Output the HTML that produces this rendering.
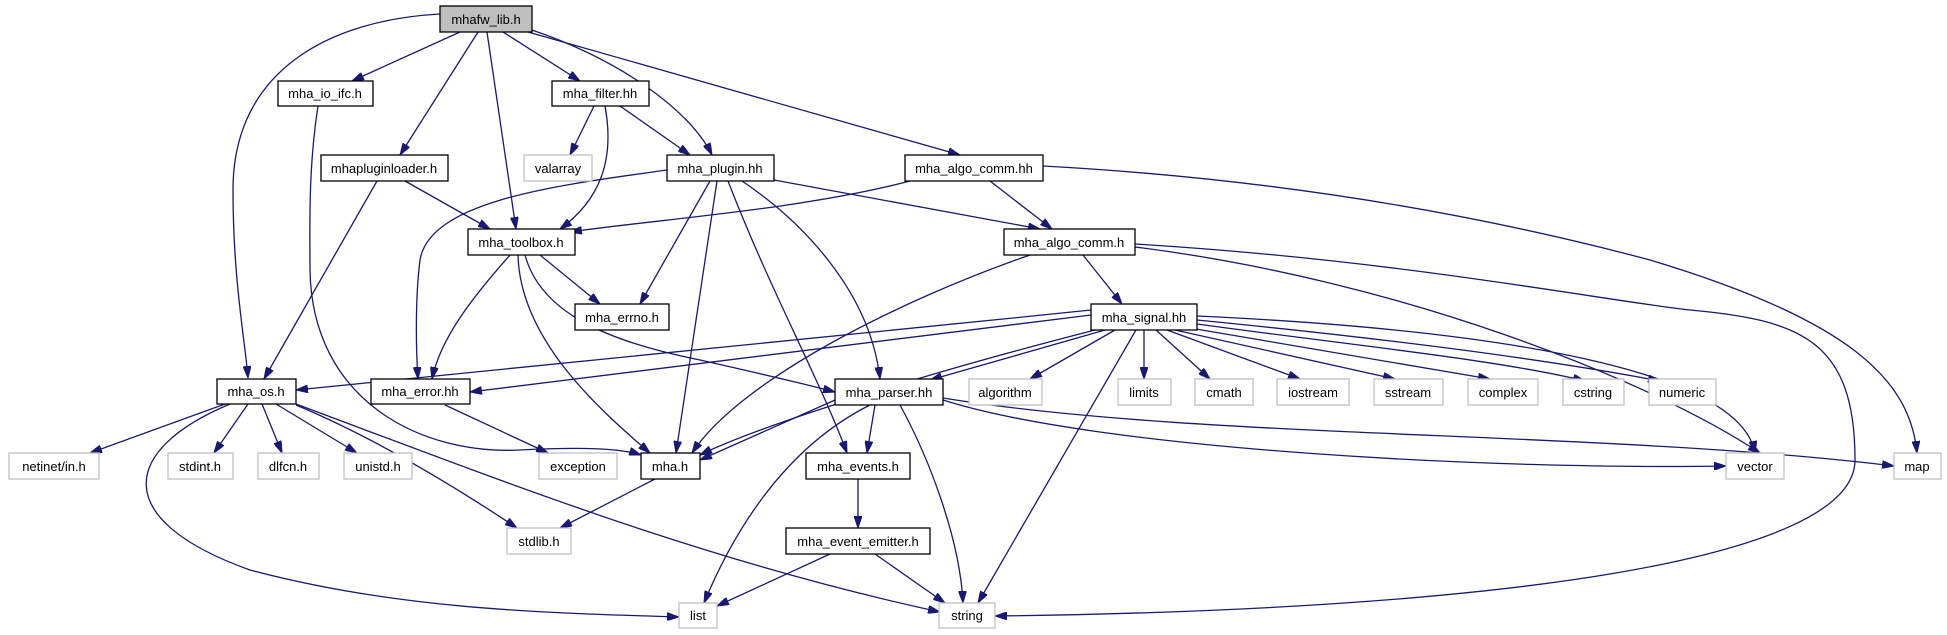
<!DOCTYPE html>
<html><head><meta charset="utf-8"><style>
html,body{margin:0;padding:0;background:#fff;}
svg{display:block;}
text{font-family:"Liberation Sans",sans-serif;font-size:13px;fill:#000;}
</style></head><body>
<svg width="1947" height="635" viewBox="0 0 1947 635" xmlns="http://www.w3.org/2000/svg">
<defs>
<marker id="a" viewBox="0 0 12 8" refX="12" refY="4" markerWidth="12" markerHeight="8" markerUnits="userSpaceOnUse" orient="auto">
<path d="M0,0 L12,4 L0,8 z" fill="#191970" stroke="#191970"/>
</marker>
</defs>
<g fill="none" stroke="#191970" stroke-width="1.3" marker-end="url(#a)">
<path d="M440,14 C330,20 233,70 233,190 C233,280 245,340 248,378"/>
<path d="M460,32 L352,81"/>
<path d="M478,32 L400,155"/>
<path d="M487,32 L516,229"/>
<path d="M503,32 L580,81"/>
<path d="M532,30 C620,60 690,110 712,155"/>
<path d="M528,32 L960,155"/>
<path d="M318,106 C308,170 310,230 310,270 C312,400 420,455 520,450 C580,447 620,448 641,455"/>
<path d="M594,106 L570,155"/>
<path d="M620,106 L690,155"/>
<path d="M605,106 C615,160 600,200 560,229"/>
<path d="M405,181 L490,229"/>
<path d="M377,181 L264,379"/>
<path d="M667,170 C560,185 430,200 420,260 C415,300 416,350 418,379"/>
<path d="M910,181 C800,210 650,220 570,232"/>
<path d="M710,181 L640,304"/>
<path d="M717,181 L676,453"/>
<path d="M728,181 C770,290 820,380 847,453"/>
<path d="M875,405 L867,453"/>
<path d="M742,181 C800,220 870,290 880,379"/>
<path d="M774,180 L1040,229"/>
<path d="M990,181 L1052,229"/>
<path d="M1043,166 C1300,180 1500,220 1650,260 C1850,320 1910,380 1917,453"/>
<path d="M540,255 L600,304"/>
<path d="M510,255 C470,300 440,340 432,379"/>
<path d="M518,255 C520,340 600,410 650,453"/>
<path d="M525,255 C540,310 600,340 700,360 C780,378 820,388 835,392"/>
<path d="M1083,255 L1122,304"/>
<path d="M1030,255 C900,300 740,380 692,453"/>
<path d="M1135,247 C1400,280 1650,380 1760,453"/>
<path d="M1135,244 C1400,260 1600,300 1690,310 C1800,320 1855,340 1855,460 C1855,560 1500,610 995,616"/>
<path d="M1091,310 C800,340 500,370 296,390"/>
<path d="M1091,315 C800,350 600,375 470,392"/>
<path d="M1095,330 C900,380 750,430 700,455"/>
<path d="M1105,330 L930,380"/>
<path d="M1115,330 L1030,379"/>
<path d="M1144,330 L1144,379"/>
<path d="M1156,330 L1210,379"/>
<path d="M1167,330 L1300,379"/>
<path d="M1175,330 L1395,379"/>
<path d="M1190,328 L1490,379"/>
<path d="M1197,324 C1350,345 1500,360 1585,381"/>
<path d="M1197,320 C1400,340 1550,360 1660,381"/>
<path d="M1197,316 C1500,330 1740,370 1755,453"/>
<path d="M1136,330 L978,603"/>
<path d="M225,404 L90,453"/>
<path d="M248,404 L214,453"/>
<path d="M262,404 L282,453"/>
<path d="M276,404 L357,453"/>
<path d="M296,405 C380,440 460,490 517,528"/>
<path d="M230,404 C120,450 110,520 250,570 C400,610 550,613 679,617"/>
<path d="M296,404 C500,480 700,560 940,612"/>
<path d="M445,405 L548,453"/>
<path d="M835,400 L700,460"/>
<path d="M870,405 C780,450 730,540 704,603"/>
<path d="M900,405 C930,460 960,540 963,603"/>
<path d="M943,400 C1100,450 1500,470 1726,466"/>
<path d="M943,398 C1200,440 1600,430 1894,466"/>
<path d="M655,479 L560,528"/>
<path d="M858,479 L858,528"/>
<path d="M830,554 L717,606"/>
<path d="M875,554 L945,603"/>
</g>
<g stroke-width="1.3" text-anchor="middle">
<rect x="440" y="6" width="92" height="26" fill="#bfbfbf" stroke="#000"/><text x="486" y="24">mhafw_lib.h</text>
<rect x="278" y="81" width="95" height="25" fill="#fff" stroke="#000"/><text x="325" y="98">mha_io_ifc.h</text>
<rect x="552" y="81" width="97" height="25" fill="#fff" stroke="#000"/><text x="600" y="98">mha_filter.hh</text>
<rect x="321" y="155" width="127" height="26" fill="#fff" stroke="#000"/><text x="384" y="173">mhapluginloader.h</text>
<rect x="524" y="155" width="68" height="26" fill="#fff" stroke="#bfbfbf"/><text x="558" y="173">valarray</text>
<rect x="667" y="155" width="107" height="26" fill="#fff" stroke="#000"/><text x="720" y="173">mha_plugin.hh</text>
<rect x="905" y="155" width="138" height="26" fill="#fff" stroke="#000"/><text x="974" y="173">mha_algo_comm.hh</text>
<rect x="468" y="229" width="107" height="26" fill="#fff" stroke="#000"/><text x="521" y="247">mha_toolbox.h</text>
<rect x="1004" y="229" width="131" height="26" fill="#fff" stroke="#000"/><text x="1069" y="247">mha_algo_comm.h</text>
<rect x="575" y="304" width="94" height="26" fill="#fff" stroke="#000"/><text x="622" y="322">mha_errno.h</text>
<rect x="1091" y="304" width="106" height="26" fill="#fff" stroke="#000"/><text x="1144" y="322">mha_signal.hh</text>
<rect x="217" y="379" width="79" height="25" fill="#fff" stroke="#000"/><text x="256" y="396">mha_os.h</text>
<rect x="371" y="379" width="99" height="25" fill="#fff" stroke="#000"/><text x="420" y="396">mha_error.hh</text>
<rect x="835" y="379" width="108" height="26" fill="#fff" stroke="#000"/><text x="889" y="397">mha_parser.hh</text>
<rect x="969" y="379" width="73" height="26" fill="#fff" stroke="#bfbfbf"/><text x="1005" y="397">algorithm</text>
<rect x="1118" y="379" width="53" height="26" fill="#fff" stroke="#bfbfbf"/><text x="1144" y="397">limits</text>
<rect x="1195" y="379" width="58" height="26" fill="#fff" stroke="#bfbfbf"/><text x="1224" y="397">cmath</text>
<rect x="1277" y="379" width="72" height="26" fill="#fff" stroke="#bfbfbf"/><text x="1313" y="397">iostream</text>
<rect x="1374" y="379" width="69" height="26" fill="#fff" stroke="#bfbfbf"/><text x="1408" y="397">sstream</text>
<rect x="1468" y="379" width="70" height="26" fill="#fff" stroke="#bfbfbf"/><text x="1503" y="397">complex</text>
<rect x="1563" y="379" width="61" height="26" fill="#fff" stroke="#bfbfbf"/><text x="1593" y="397">cstring</text>
<rect x="1649" y="379" width="67" height="26" fill="#fff" stroke="#bfbfbf"/><text x="1682" y="397">numeric</text>
<rect x="9" y="453" width="90" height="26" fill="#fff" stroke="#bfbfbf"/><text x="54" y="471">netinet/in.h</text>
<rect x="168" y="453" width="65" height="26" fill="#fff" stroke="#bfbfbf"/><text x="200" y="471">stdint.h</text>
<rect x="258" y="453" width="61" height="26" fill="#fff" stroke="#bfbfbf"/><text x="288" y="471">dlfcn.h</text>
<rect x="344" y="453" width="68" height="26" fill="#fff" stroke="#bfbfbf"/><text x="378" y="471">unistd.h</text>
<rect x="539" y="453" width="78" height="26" fill="#fff" stroke="#bfbfbf"/><text x="578" y="471">exception</text>
<rect x="641" y="453" width="59" height="26" fill="#fff" stroke="#000"/><text x="670" y="471">mha.h</text>
<rect x="806" y="453" width="104" height="26" fill="#fff" stroke="#000"/><text x="858" y="471">mha_events.h</text>
<rect x="1726" y="453" width="58" height="26" fill="#fff" stroke="#bfbfbf"/><text x="1755" y="471">vector</text>
<rect x="1894" y="453" width="47" height="26" fill="#fff" stroke="#bfbfbf"/><text x="1917" y="471">map</text>
<rect x="507" y="528" width="64" height="26" fill="#fff" stroke="#bfbfbf"/><text x="539" y="546">stdlib.h</text>
<rect x="786" y="528" width="144" height="26" fill="#fff" stroke="#000"/><text x="858" y="546">mha_event_emitter.h</text>
<rect x="679" y="603" width="38" height="25" fill="#fff" stroke="#bfbfbf"/><text x="698" y="620">list</text>
<rect x="939" y="603" width="56" height="25" fill="#fff" stroke="#bfbfbf"/><text x="967" y="620">string</text>
</g>
</svg>
</body></html>
